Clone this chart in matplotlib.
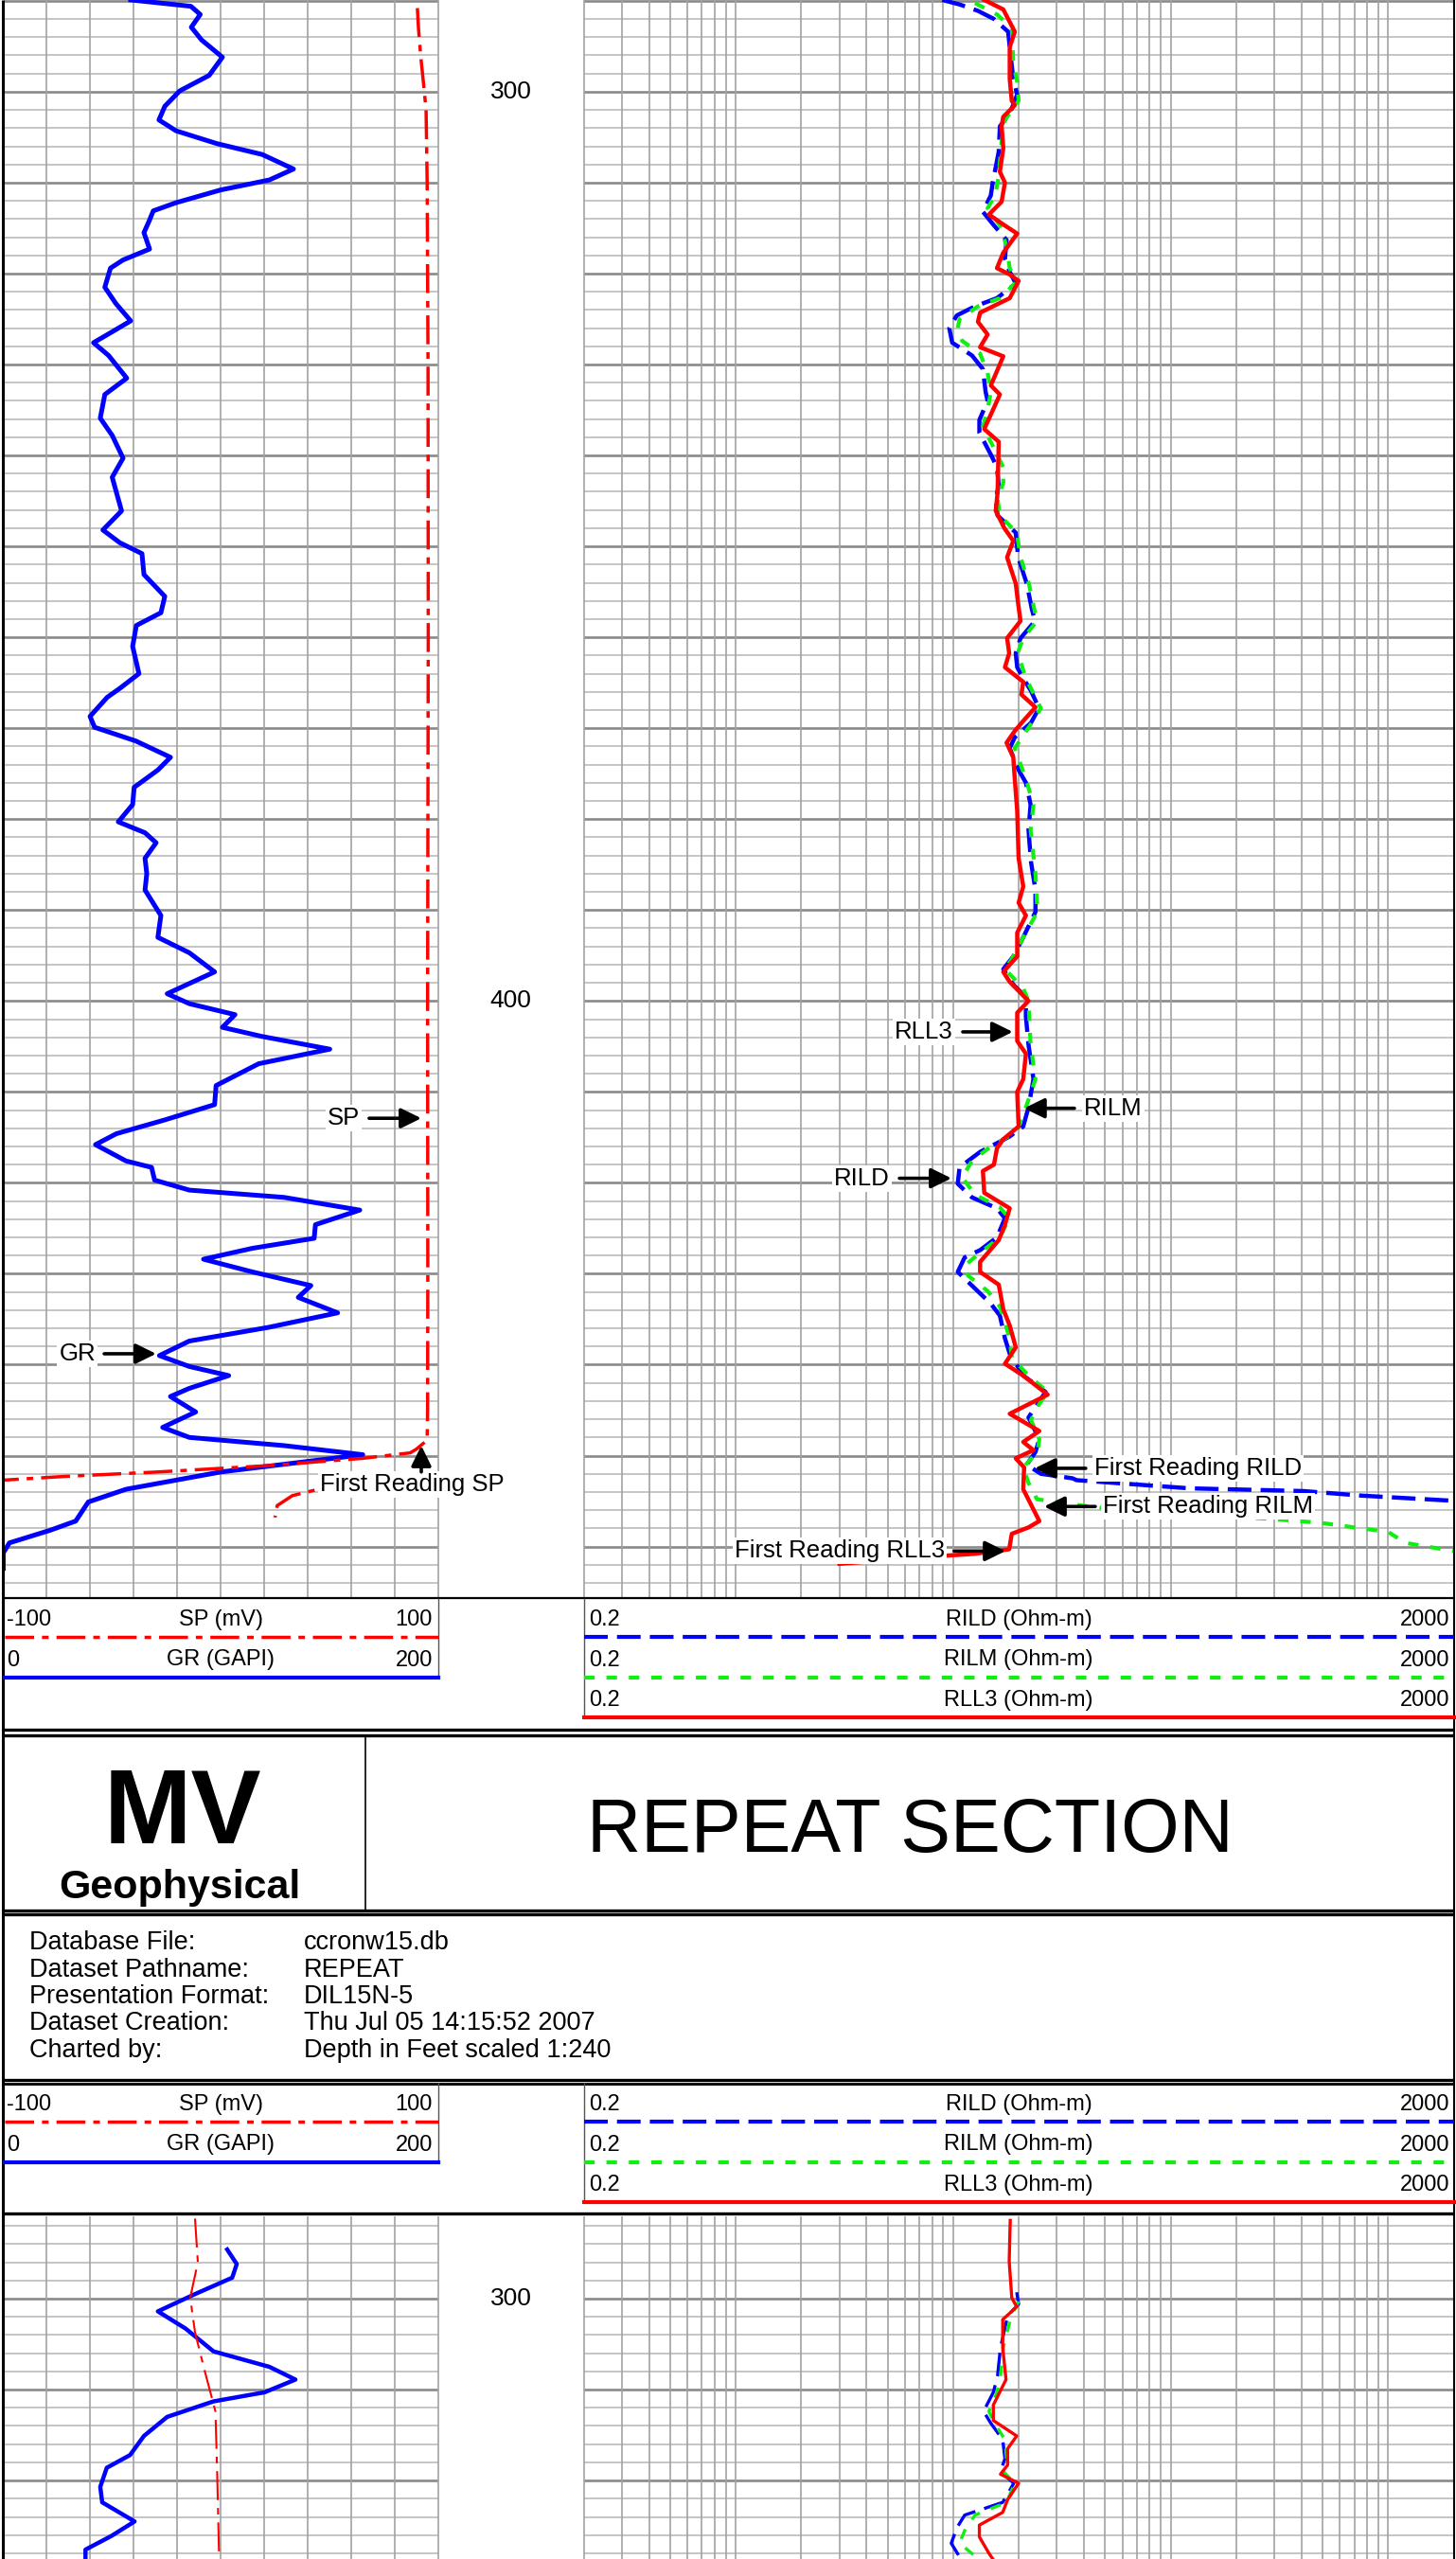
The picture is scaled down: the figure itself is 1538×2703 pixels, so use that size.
import numpy as np
import matplotlib
matplotlib.use("Agg")
import matplotlib.pyplot as plt

plt.rcParams['font.family'] = ['Liberation Sans', 'DejaVu Sans']
plt.rcParams['lines.scale_dashes'] = False

W, H = 1538, 2703

# ---------------- main section (depth in feet) ----------------
gr_depth = [289.9, 290.6, 291.5, 292.9, 294.3, 296.2, 298.2, 299.9, 301.6, 303.1, 304.3, 305.7,
            306.9, 308.5, 309.7, 310.8, 312.2, 313.1, 314.1, 315.5, 317.3, 318.5, 319.4, 321.5,
            323.3, 325.2, 326.4, 327.6, 329.0, 331.5, 333.3, 335.9, 337.8, 340.3, 342.4, 346.1,
            348.2, 349.6, 350.8, 353.1, 355.5, 357.3, 358.7, 361.0,
            364.0, 365.6, 366.6, 368.7, 369.9, 371.4, 373.2, 374.6, 376.5, 378.4, 380.3, 381.5,
            382.6, 384.3, 386.0, 387.8, 390.6, 393.0, 394.7, 396.8, 399.2, 400.3, 401.5, 402.9,
            403.9, 405.3, 406.9, 409.3, 411.4, 413.1, 414.6, 415.8,
            417.6, 418.3, 419.7, 420.8, 421.6, 423.0, 424.6, 426.1, 427.2, 428.4, 429.8, 431.3,
            432.6, 434.3, 435.9, 437.4, 439.0, 440.2, 441.2, 442.6, 443.5, 445.2, 446.9, 448.0,
            448.9, 449.9, 451.8, 453.7, 455.1, 457.2, 458.2, 459.6, 460.7, 462.4]
gr_api = [58.6, 86.3, 90.6, 86.5, 91.2, 100.8, 94.7, 81.2, 74.3, 71.6, 79.5, 98.2,
          119.1, 133.5, 122.4, 100.0, 79.5, 69.0, 67.3, 64.7, 67.3, 55.1, 49.3, 46.7,
          51.8, 58.6, 50.1, 41.5, 48.4, 56.8, 46.7, 44.6, 50.1, 55.1, 50.1, 54.4,
          45.8, 53.6, 63.8, 64.7, 74.3, 72.5, 61.2, 59.5,
          62.4, 53.7, 47.8, 39.9, 42.0, 60.9, 76.9, 71.1, 60.2, 59.5, 52.9, 65.2,
          70.3, 65.2, 66.0, 65.2, 72.5, 71.1, 85.6, 97.2, 75.4, 85.6, 106.6, 100.8,
          119.0, 150.2, 117.5, 97.9, 97.2, 74.0, 52.0, 42.4,
          56.5, 68.2, 69.6, 85.6, 129.1, 164.0, 143.6, 143.0, 114.6, 92.1, 114.6, 141.5,
          135.7, 153.8, 121.9, 85.6, 71.8, 85.6, 103.7, 85.6, 76.9, 88.5, 73.3, 85.6,
          129.1, 165.4, 100.1, 56.5, 39.1, 33.3, 21.7, 2.8, 0.0, 0.0]

sp_depth = [290.8, 293.0, 296.0, 299.5, 302.0, 310.0, 330.0, 360.0, 400.0, 430.0, 445.0, 448.3,
            448.7, 449.3, 449.7, 450.3, 451.1, 451.8, 452.3, 452.7, 453.7, 454.4, 455.5, 456.8]
sp_mv = [90.5, 91.0, 92.0, 93.5, 94.5, 95.0, 95.4, 95.5, 95.2, 95.3, 95.2, 95.0,
         93.0, 90.0, 87.2, 65.4, 21.9, -28.9, -72.5, -100.0, -155.0, -167.0, -174.0, -175.0]

rild_depth = [289.9, 290.4, 291.1, 292.0, 293.4, 295.1, 298.6, 300.3, 302.4, 303.8, 306.6, 310.0,
              311.4, 313.2, 314.7, 316.3, 318.4, 319.8, 321.1, 322.7, 323.6, 324.6, 326.0, 327.6,
              329.0, 330.5, 333.0, 334.0, 336.1, 337.5, 339.9, 341.3, 343.3, 344.8, 346.6, 348.5,
              351.2, 354.1, 356.9, 358.2, 360.1, 361.75, 363.3, 364.5, 365.9, 367.8, 369.4, 371.0,
              372.2, 374.6, 376.0, 378.4, 381.2, 384.7, 387.8, 390.2, 393.0, 395.1, 396.5, 398.2,
              399.6, 401.7, 404.8, 408.6, 411.7, 413.8, 414.9, 416.6, 418.3, 420.1, 421.6, 422.8,
              423.9, 426.0, 427.4, 428.2, 429.8, 431.3, 433.3, 434.6, 437.1, 438.8, 441.2, 443.0,
              444.4, 445.8, 448.2, 449.6, 451.0, 452.0, 452.5, 452.7, 453.6, 453.9, 454.4, 455.0,
              455.6]
rild_ohmm = [8.9, 10.7, 13.0, 15.4, 17.9, 18.2, 18.9, 19.7, 18.2, 16.4, 16.2, 15.2,
             14.9, 13.7, 15.4, 17.6, 17.3, 18.2, 19.4, 15.9, 12.6, 10.4, 9.6, 9.9,
             12.2, 13.7, 14.1, 14.4, 13.2, 13.2, 14.9, 15.9, 16.2, 15.7, 16.0, 19.4,
             19.9, 21.8, 23.0, 23.8, 20.4, 19.4, 19.7, 21.0, 22.8, 24.8, 22.8, 19.2,
             18.2, 20.0, 21.6, 22.7, 22.2, 22.8, 23.9, 23.9, 21.0, 18.9, 17.0, 18.9,
             21.6, 21.6, 22.2, 23.4, 22.2, 21.0, 18.2, 13.3, 10.7, 10.5, 12.2, 15.9,
             17.3, 15.9, 13.3, 11.3, 10.5, 12.2, 14.9, 16.4, 17.3, 18.2, 21.0, 26.6,
             24.3, 22.2, 24.9, 23.9, 21.8, 25.3, 35.4, 36.9, 122.0, 408.0, 752.0, 2100.0,
             3000.0]

rilm_depth = [290.25, 291.5, 293.0, 296.9, 298.9, 301.0, 303.1, 305.5, 309.3, 311.4, 312.8, 314.7,
              317.0, 319.4, 321.0, 322.7, 323.6, 325.0, 326.0, 327.4, 328.8, 330.9, 333.0, 335.0,
              336.8, 339.2, 341.3, 343.0, 344.8, 346.6, 348.5, 351.2, 354.1, 356.9, 358.2, 360.1,
              361.75, 364.5, 367.8, 369.4, 372.2, 375.6, 378.4, 381.2, 386.0, 390.2, 393.0, 395.4,
              396.5, 398.6, 400.0, 404.8, 408.6, 411.7, 414.4, 416.0, 417.6, 419.4, 421.3, 422.7,
              423.9, 426.0, 427.7, 429.1, 430.2, 431.9, 433.6, 437.1, 439.2, 441.2, 443.0, 444.7,
              446.1, 448.2, 449.6, 451.3, 453.0, 454.8, 455.7, 457.0, 457.4, 458.4, 459.6, 460.5,
              461.0]
rilm_ohmm = [12.6, 15.9, 18.6, 18.9, 19.7, 20.0, 17.3, 16.7, 16.2, 15.6, 14.4, 16.4,
             17.6, 18.2, 19.4, 16.4, 13.0, 10.7, 10.5, 11.0, 13.3, 14.4, 14.9, 14.4,
             13.7, 15.4, 17.0, 17.0, 16.0, 16.4, 19.6, 20.4, 22.3, 23.6, 24.3, 21.0,
             19.8, 21.6, 25.3, 23.0, 19.2, 21.6, 23.4, 22.7, 23.9, 24.4, 21.0, 18.6,
             17.3, 21.0, 22.2, 22.7, 23.9, 21.6, 19.5, 14.9, 12.2, 11.0, 12.6, 16.4,
             18.1, 16.4, 13.3, 11.3, 11.7, 14.4, 16.4, 18.2, 18.6, 22.2, 27.2, 24.3,
             22.8, 24.9, 24.4, 21.0, 22.2, 24.3, 44.8, 300.0, 491.0, 1000.0, 1200.0, 2000.0,
             2600.0]

rll3_depth = [289.9, 290.95, 293.4, 295.1, 298.6, 301.0, 301.5, 302.75, 303.8, 306.2, 308.8, 310.0,
              312.1, 313.5, 314.6, 315.6, 317.7, 319.4, 320.1, 320.8, 322.7, 324.3, 325.3, 326.7,
              328.1, 329.1, 332.3, 333.3, 337.1, 338.5, 344.1, 346.1, 348.0, 349.4, 351.2, 354.1,
              356.3, 358.2, 360.1, 361.75, 363.3, 364.9, 366.3, 367.7, 369.2, 370.3, 371.6, 373.2,
              375.6, 379.1, 384.3, 387.4, 389.2, 390.6, 392.5, 395.1, 396.8, 397.9, 400.0, 401.3,
              404.4, 405.8, 408.6, 410.0, 413.8, 415.2, 416.2, 418.0, 418.7, 421.1, 422.8, 424.6,
              426.3, 428.7, 429.8, 431.2, 433.9, 435.7, 438.1, 439.9, 441.2, 443.3, 445.4, 447.3,
              448.5, 449.4, 450.3, 451.3, 453.7, 457.2, 457.9, 458.6, 460.3, 460.8, 461.0, 461.9]
rll3_ohmm = [13.9, 17.0, 19.2, 18.2, 18.2, 18.6, 19.2, 17.0, 16.7, 17.0, 16.4, 17.3,
             16.7, 14.6, 17.0, 19.7, 17.0, 15.9, 18.2, 20.0, 18.2, 13.3, 13.0, 14.4,
             13.3, 17.0, 14.9, 16.4, 13.9, 16.2, 16.0, 15.7, 17.2, 18.9, 17.7, 19.4,
             19.9, 20.4, 17.7, 18.1, 17.3, 21.0, 20.6, 23.9, 21.0, 19.2, 17.6, 18.9,
             19.2, 19.7, 20.0, 21.0, 20.0, 21.6, 19.7, 19.7, 17.0, 18.2, 22.2, 19.7,
             19.7, 21.6, 21.0, 19.7, 20.0, 17.0, 15.9, 15.4, 13.7, 13.9, 18.2, 17.3,
             16.2, 13.3, 13.3, 16.2, 17.0, 18.2, 19.4, 17.3, 21.0, 27.2, 18.2, 24.9,
             21.0, 23.4, 19.4, 21.2, 21.0, 24.9, 22.2, 18.6, 18.1, 12.6, 9.3, 3.0]

# ---------------- repeat section ----------------
gr2_depth = [294.6, 296.2, 297.7, 299.5, 301.4, 303.3, 305.8, 307.5, 308.9, 310.3, 311.3, 313.0,
             315.1, 317.2, 318.6, 320.7, 322.4, 324.5, 326.1, 327.6, 328.7]
gr2_api = [103.0, 107.4, 105.3, 88.2, 71.1, 83.9, 96.7, 122.4, 134.4, 120.2, 96.7, 75.4,
           64.7, 58.3, 47.6, 44.6, 45.5, 60.4, 49.7, 37.8, 37.8]
sp2_depth = [291.2, 296.0, 299.9, 303.7, 307.8, 312.4, 319.3, 328.7]
sp2_mv = [-11.8, -10.5, -14.0, -11.8, -7.5, -2.4, -1.6, -0.7]
rild2_depth = [299.3, 300.6, 301.9, 305.4, 308.5, 310.3, 312.4, 313.7, 315.5, 317.6, 319.0, 320.3,
               322.4, 323.8, 325.2, 326.9, 328.7]
rild2_ohmm = [19.6, 20.0, 17.8, 16.5, 16.0, 15.3, 13.8, 14.9, 16.9, 17.3, 16.5, 19.0,
              16.9, 11.3, 10.4, 9.8, 10.9]
rilm2_depth = [300.3, 301.9, 305.4, 308.5, 310.3, 312.4, 313.7, 315.5, 317.6, 319.0, 320.3, 322.4,
               323.8, 325.5, 326.9, 328.7]
rilm2_ohmm = [20.0, 18.5, 17.0, 16.5, 15.9, 14.6, 15.5, 17.3, 17.6, 17.0, 19.2, 17.6,
              12.6, 11.3, 10.7, 13.2]
rll32_depth = [291.4, 295.9, 299.9, 300.9, 302.3, 305.4, 308.9, 311.7, 313.4, 315.1, 316.5, 318.3,
               319.3, 320.3, 322.1, 323.5, 324.9, 326.2, 328.0, 328.7]
rll32_ohmm = [18.3, 18.1, 18.6, 19.6, 16.9, 16.9, 17.5, 15.3, 15.3, 19.6, 17.8, 17.8,
              16.5, 20.0, 17.8, 16.9, 13.2, 13.2, 14.6, 15.3]

# header texts
left_names = ['SP (mV)', 'GR (GAPI)']
left_ranges = [('-100', '100'), ('0', '200')]
right_names = ['RILD (Ohm-m)', 'RILM (Ohm-m)', 'RLL3 (Ohm-m)']
right_ranges = [('0.2', '2000')] * 3
info_labels = ['Database File:', 'Dataset Pathname:', 'Presentation Format:',
               'Dataset Creation:', 'Charted by:']
info_values = ['ccronw15.db', 'REPEAT', 'DIL15N-5', 'Thu Jul 05 14:15:52 2007',
               'Depth in Feet scaled 1:240']

BLUE, RED, GREEN = '#0000ff', '#ff0000', '#11ee11'
SP_DASH = (22, 6, 5, 6)
RILD_DASH = (18, 7)
RILM_DASH = (8, 9)

fig = plt.figure(figsize=(W / 100, H / 100), dpi=100)


def px_axes(x0, y0, x1, y1):
    ax = fig.add_axes([x0 / W, 1 - y1 / H, (x1 - x0) / W, (y1 - y0) / H])
    ax.set_axis_off()
    return ax


LX0, LX1 = 3.5, 462.7
RX0, RX1 = 616.5, 1535.5
MINOR = dict(color='#b5b5b5', lw=1.1, zorder=0)
MAJOR = dict(color='#8a8a8a', lw=1.9, zorder=0)
VGRID = dict(color='#a2a2a2', lw=1.2, zorder=0)


def depth_grid(ax, d_top, d_bot):
    for d in np.arange(np.ceil(d_top / 2) * 2, d_bot, 2):
        ax.axhline(d, **(MAJOR if d % 10 == 0 else MINOR))


def make_section(y0, y1, d_top, d_bot):
    gr = px_axes(LX0, y0, LX1, y1)
    gr.set_xlim(0, 200)
    gr.set_ylim(d_bot, d_top)
    depth_grid(gr, d_top, d_bot)
    for v in range(20, 201, 20):
        gr.axvline(v, clip_on=False, **VGRID)
    sp = px_axes(LX0, y0, LX1, y1)
    sp.set_xlim(-100, 100)
    sp.set_ylim(d_bot, d_top)
    spb = px_axes(LX0, y0, LX1, y1)   # backup scale for SP
    spb.set_xlim(-300, -100)
    spb.set_ylim(d_bot, d_top)
    dep = px_axes(LX1, y0, RX0, y1)
    dep.set_ylim(d_bot, d_top)
    for d in range(100, 1000, 100):
        if d_top < d < d_bot:
            dep.text(0.5, d, str(d), transform=dep.get_yaxis_transform(),
                     ha='center', va='center', fontsize=19)
    res = px_axes(RX0, y0, RX1, y1)
    res.set_xscale('log')
    res.set_xlim(0.2, 2000)
    res.set_ylim(d_bot, d_top)
    depth_grid(res, d_top, d_bot)
    for dec in [0.1, 1, 10, 100, 1000]:
        for m in range(1, 10):
            v = m * dec
            if 0.19 < v < 2001:
                res.axvline(v, clip_on=False, **VGRID)
    return gr, sp, spb, res


# main section
gr, sp, spb, res = make_section(0, 1688, 289.91, 465.67)
gr.plot(gr_api, gr_depth, color=BLUE, lw=3.6, solid_joinstyle='round')
for a in (sp, spb):
    a.plot(sp_mv, sp_depth, color=RED, lw=2.5, dashes=SP_DASH)
res.plot(rild_ohmm, rild_depth, color=BLUE, lw=3.2, dashes=RILD_DASH)
res.plot(rilm_ohmm, rilm_depth, color=GREEN, lw=3.0, dashes=RILM_DASH)
res.plot(rll3_ohmm, rll3_depth, color=RED, lw=3.2, solid_joinstyle='round')

# repeat section
gr2, sp2, spb2, res2 = make_section(2342, 2703, 291.05, 328.63)
gr2.plot(gr2_api, gr2_depth, color=BLUE, lw=3.2, solid_joinstyle='round')
sp2.plot(sp2_mv, sp2_depth, color=RED, lw=1.5, dashes=SP_DASH)
res2.plot(rild2_ohmm, rild2_depth, color=BLUE, lw=2.4, dashes=RILD_DASH)
res2.plot(rilm2_ohmm, rilm2_depth, color=GREEN, lw=2.4, dashes=RILM_DASH)
res2.plot(rll32_ohmm, rll32_depth, color=RED, lw=2.4, solid_joinstyle='round')

# overlay for frames, header and labels (pixel coordinates)
bg = px_axes(0, 0, W, H)
bg.set_xlim(0, W)
bg.set_ylim(H, 0)


def hline(y, x0=3, x1=1535.5, **kw):
    kw.setdefault('color', 'black')
    kw.setdefault('lw', 1.5)
    bg.plot([x0, x1], [y, y], solid_capstyle='butt', **kw)


def vline(x, y0, y1, **kw):
    kw.setdefault('color', 'black')
    kw.setdefault('lw', 1.5)
    bg.plot([x, x], [y0, y1], solid_capstyle='butt', **kw)


def header(top):
    vline(LX1, top, top + 85, color='#555555', lw=1.0)
    vline(RX0, top, top + 127, color='#555555', lw=1.0)
    styles_l = [dict(color=RED, lw=2.5, dashes=SP_DASH), dict(color=BLUE, lw=3.0)]
    for i, (name, (lo, hi)) in enumerate(zip(left_names, left_ranges)):
        yb = top + 29 + 42.5 * i
        bg.text(7, yb, lo, ha='left', va='baseline', fontsize=17)
        bg.text((LX0 + LX1) / 2, yb, name, ha='center', va='baseline', fontsize=17)
        bg.text(457, yb, hi, ha='right', va='baseline', fontsize=17)
        bg.plot([5, LX1], [yb + 12, yb + 12], **styles_l[i])
    styles_r = [dict(color=BLUE, lw=3.0, dashes=RILD_DASH),
                dict(color=GREEN, lw=3.0, dashes=RILM_DASH),
                dict(color=RED, lw=3.0)]
    for i, (name, (lo, hi)) in enumerate(zip(right_names, right_ranges)):
        yb = top + 29 + 42.5 * i
        bg.text(622, yb, lo, ha='left', va='baseline', fontsize=17)
        bg.text((RX0 + RX1) / 2, yb, name, ha='center', va='baseline', fontsize=17)
        bg.text(1531, yb, hi, ha='right', va='baseline', fontsize=17)
        bg.plot([RX0, RX1], [yb + 12, yb + 12], **styles_r[i])


# page borders
vline(3, 0, H, lw=2.2)
vline(1535.5, 0, H, lw=1.5)
hline(1688, lw=1.6)
header(1688)
hline(1827, lw=2.4)
# title box
hline(1833, lw=2.4)
hline(2018, lw=2.4)
vline(385.5, 1833, 2018, lw=1.2)
bg.text(193, 1947, 'MV', ha='center', va='baseline', fontsize=80, fontweight='bold')
bg.text(190, 2005, 'Geophysical', ha='center', va='baseline', fontsize=31, fontweight='bold')
bg.text(961, 1956, 'REPEAT SECTION', ha='center', va='baseline', fontsize=57)
# info box
hline(2022, lw=2.4)
for i, (lab, val) in enumerate(zip(info_labels, info_values)):
    yb = 2059 + 28.5 * i
    bg.text(31, yb, lab, ha='left', va='baseline', fontsize=19.5)
    bg.text(321, yb, val, ha='left', va='baseline', fontsize=19.5)
hline(2197, lw=2.4)
hline(2200.5, lw=2.0)
header(2200)
hline(2338, lw=2.4)


def label_arrow(ax, text, pos, ha, tail, tip):
    bg.text(pos[0], pos[1], text, transform=ax.transData, ha=ha, va='center',
            fontsize=18.5, zorder=5,
            bbox=dict(facecolor='white', edgecolor='none', pad=1.5))
    bg.annotate('', xy=tip, xycoords=ax.transData, xytext=tail, textcoords=ax.transData,
                annotation_clip=False, zorder=6,
                arrowprops=dict(arrowstyle='-|>,head_length=0.65,head_width=0.32',
                                color='black', lw=2.6, mutation_scale=20,
                                shrinkA=0, shrinkB=0))


label_arrow(gr, 'GR', (42.5, 438.8), 'right', (46.4, 438.8), (70.3, 438.8))
label_arrow(gr, 'SP', (164.0, 412.9), 'right', (168.3, 412.9), (192.3, 412.9))
label_arrow(gr, 'First Reading SP', (145.7, 453.2), 'left', (192.3, 451.8), (192.3, 448.9))
label_arrow(res, 'RLL3', (10.0, 403.4), 'right', (11.07, 403.4), (18.8, 403.4))
label_arrow(res, 'RILM', (39.9, 411.8), 'left', (36.1, 411.8), (21.2, 411.8))
label_arrow(res, 'RILD', (5.12, 419.5), 'right', (5.66, 419.5), (9.82, 419.5))
label_arrow(res, 'First Reading RILD', (44.6, 451.4), 'left', (40.7, 451.4), (23.7, 451.4))
label_arrow(res, 'First Reading RILM', (48.8, 455.6), 'left', (45.0, 455.6), (26.2, 455.6))
label_arrow(res, 'First Reading RLL3', (9.16, 460.5), 'right', (10.1, 460.5), (17.4, 460.5))

fig.savefig('out.png', dpi=100)
